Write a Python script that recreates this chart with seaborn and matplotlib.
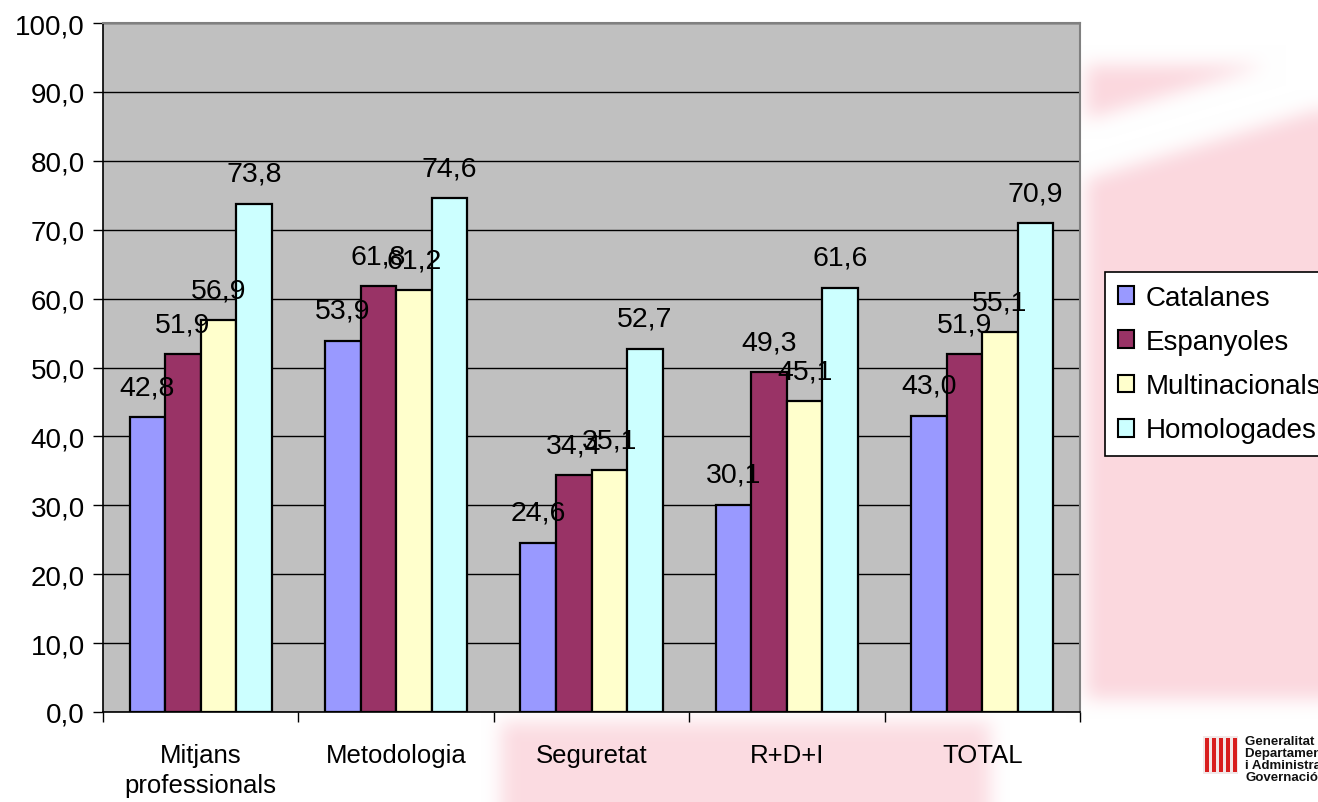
import numpy as np
import pandas as pd
import matplotlib
matplotlib.use("Agg")
import matplotlib.pyplot as plt
import matplotlib.patches as mpatches
from matplotlib.ticker import FixedLocator, FuncFormatter
import seaborn as sns

# ---- data ----
categories = ["Mitjans\nprofessionals", "Metodologia", "Seguretat", "R+D+I", "TOTAL"]
series_names = ["Catalanes", "Espanyoles", "Multinacionals", "Homologades"]
catalanes = [42.8, 53.9, 24.6, 30.1, 43.0]
espanyoles = [51.9, 61.8, 34.4, 49.3, 51.9]
multinacionals = [56.9, 61.2, 35.1, 45.1, 55.1]
homologades = [73.8, 74.6, 52.7, 61.6, 70.9]
y_ticks = [0, 10, 20, 30, 40, 50, 60, 70, 80, 90, 100]

colors = ["#9999FF", "#993366", "#FFFFCC", "#CCFFFF"]

rows = []
for name, vals in zip(series_names, [catalanes, espanyoles, multinacionals, homologades]):
    for c, v in zip(categories, vals):
        rows.append({"cat": c, "serie": name, "val": v})
df = pd.DataFrame(rows)

sns.set_style("white")
plt.rcParams["font.family"] = ["Liberation Sans", "DejaVu Sans"]
plt.rcParams["text.color"] = "black"
plt.rcParams["xtick.color"] = "black"
plt.rcParams["ytick.color"] = "black"
plt.rcParams["xtick.labelcolor"] = "black"
plt.rcParams["ytick.labelcolor"] = "black"

W, H = 1318, 803
fig = plt.figure(figsize=(W / 100, H / 100), dpi=100)


def box_blur(a, r):
    k = 2 * r + 1
    p = np.pad(a, ((r + 1, r), (0, 0)), mode="edge")
    c = np.cumsum(p, axis=0)
    a = (c[k:] - c[:-k]) / k
    p = np.pad(a, ((0, 0), (r + 1, r)), mode="edge")
    c = np.cumsum(p, axis=1)
    return (c[:, k:] - c[:, :-k]) / k


# ---- faint background watermark (decoration) ----
bg = fig.add_axes([0, 0, 1, 1], zorder=-5)
bg.set_xlim(0, W)
bg.set_ylim(H, 0)
bg.axis("off")
yy, xx = np.mgrid[0:H, 0:W]
right = ((xx > 1085) & (yy > 65) & (yy < 700)).astype(float)
diag = np.abs((yy - 150) + (xx - 1085) * 0.3) < 30
right = right * (~diag)
bottom = ((xx > 500) & (xx < 990) & (yy > 722)).astype(float) * 0.9
mask = np.clip(right + bottom, 0, 1)
mask = box_blur(box_blur(mask, 10), 10) * 0.95
pink = np.array([251, 214, 221]) / 255.0
img = np.ones((H, W, 3)) * (1 - mask[..., None]) + pink * mask[..., None]
bg.imshow(img, extent=(0, W, H, 0), aspect="auto", interpolation="bilinear")
# logo
bg.add_patch(mpatches.Rectangle((1196, 733), 130, 75, color="white", zorder=2))
bg.add_patch(mpatches.Rectangle((1203, 737), 35, 38, facecolor="#F2E8E8", edgecolor="none", zorder=3))
for i in range(5):
    bg.add_patch(mpatches.Rectangle((1205 + i * 7, 739), 4, 34, facecolor="#D81E1E", edgecolor="none", zorder=4))
bg.text(1245, 736, "Generalitat de Catalunya\nDepartament de Governació\ni Administracions Públiques\nGovernació",
        fontsize=9.5, fontweight="bold", va="top", ha="left", linespacing=1.0, zorder=5, color="#111111")

# ---- main axes ----
ax = fig.add_axes([103 / W, 1 - 713 / H, (1080 - 103) / W, (713 - 24) / H])
ax.set_facecolor("#C0C0C0")
ax.set_axisbelow(True)

sns.barplot(data=df, x="cat", y="val", hue="serie", order=categories, hue_order=series_names,
            palette=colors, edgecolor="black", linewidth=1.6, width=0.727, saturation=1,
            ax=ax, legend=True)

ax.set_ylim(0, 100)
ax.set_xlim(-0.5, len(categories) - 0.5)
ax.yaxis.set_major_locator(FixedLocator(y_ticks))
ax.yaxis.set_major_formatter(FuncFormatter(lambda v, p: f"{v:.1f}".replace(".", ",")))
ax.grid(axis="y", color="black", linewidth=1.0)
ax.grid(axis="x", visible=False)
ax.set_xlabel("")
ax.set_ylabel("")

ax.tick_params(axis="y", direction="out", length=7, width=1, color="black", labelsize=20, pad=6,
               left=True, labelcolor="black")
ax.tick_params(axis="x", which="major", length=0, labelsize=18.5, pad=22, labelcolor="black")
ax.set_xticks(np.arange(-0.5, len(categories)), minor=True)
ax.tick_params(axis="x", which="minor", direction="out", length=7, width=1, color="black", bottom=True)
for lbl in ax.get_xticklabels():
    lbl.set_linespacing(1.35)

for side in ["left", "bottom"]:
    ax.spines[side].set_color("black")
    ax.spines[side].set_linewidth(1.2)
for side in ["top", "right"]:
    ax.spines[side].set_color("#808080")
    ax.spines[side].set_linewidth(1.5)

# data labels
for cont in ax.containers:
    for rect in cont:
        h = rect.get_height()
        ax.annotate(f"{h:.1f}".replace(".", ","), (rect.get_x() + rect.get_width() / 2, h),
                    xytext=(0, 16.5), textcoords="offset points", ha="center", va="baseline",
                    fontsize=20.5, color="black")

# legend
handles, labels = ax.get_legend_handles_labels()
ax.legend_.remove()
leg = fig.legend(handles, labels, loc="upper left", bbox_to_anchor=(1105 / W, 1 - 273 / H),
                 bbox_transform=fig.transFigure, borderaxespad=0, fontsize=20, frameon=True,
                 fancybox=False, edgecolor="black", facecolor="white", framealpha=1,
                 handlelength=0.6, handleheight=0.6, handletextpad=0.4, labelspacing=0.66,
                 borderpad=0.45)
leg.get_frame().set_linewidth(1.2)
for p in leg.get_patches():
    p.set_edgecolor("black")
    p.set_linewidth(1.5)
for t in leg.get_texts():
    t.set_color("black")

fig.savefig("out.png", dpi=100)
